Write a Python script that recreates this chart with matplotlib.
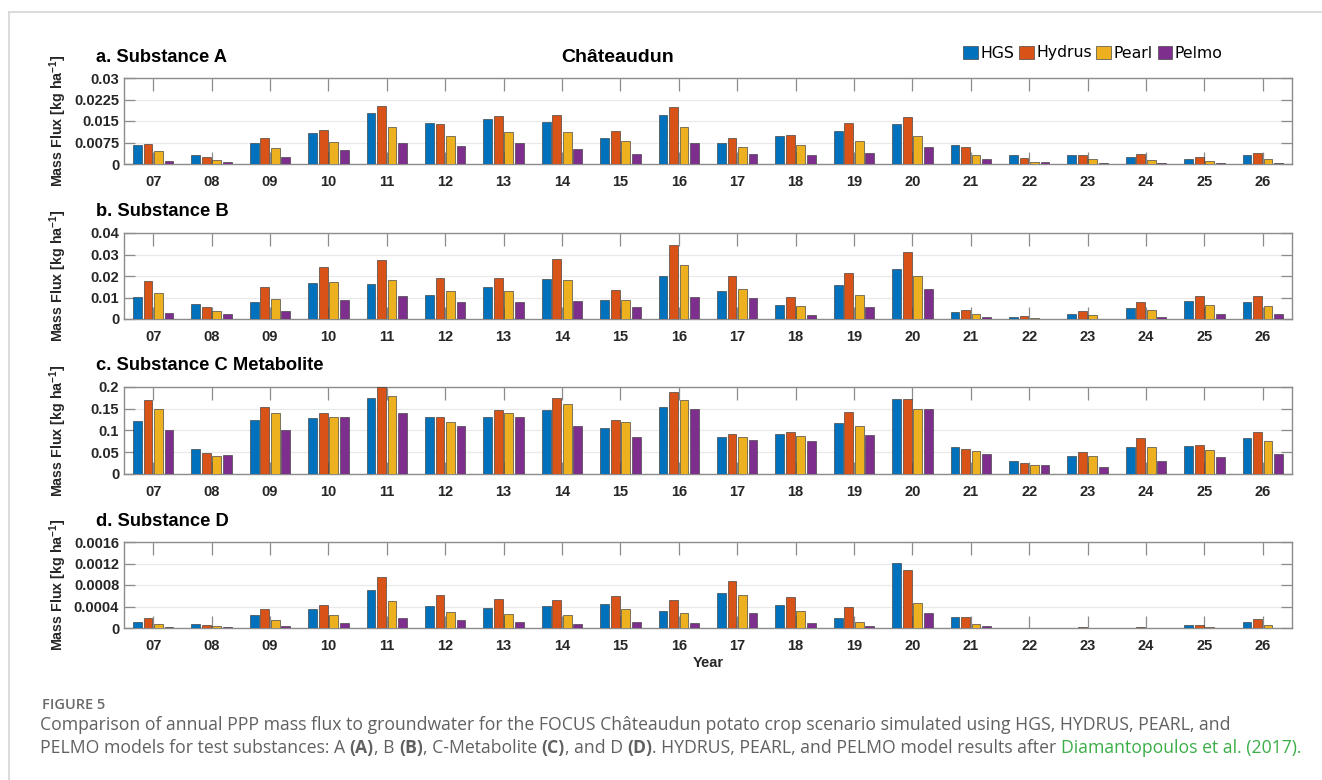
import matplotlib
matplotlib.use('Agg')
import matplotlib.pyplot as plt
from matplotlib.patches import Patch
from matplotlib.lines import Line2D
from matplotlib.font_manager import FontProperties
import numpy as np

# ---------------- data ----------------
years = ['07', '08', '09', '10', '11', '12', '13', '14', '15', '16',
         '17', '18', '19', '20', '21', '22', '23', '24', '25', '26']
models = ['HGS', 'Hydrus', 'Pearl', 'Pelmo']
colors = ['#0072BD', '#D95319', '#EDB120', '#7E2F8E']

# Substance A
a_hgs = [0.0065, 0.0032, 0.0074, 0.0109, 0.0179, 0.0142, 0.0157, 0.0147, 0.0092, 0.0170,
         0.0073, 0.0097, 0.0115, 0.0141, 0.0067, 0.0031, 0.0031, 0.0023, 0.0018, 0.0031]
a_hydrus = [0.0070, 0.0025, 0.0091, 0.0119, 0.0202, 0.0138, 0.0166, 0.0171, 0.0115, 0.0198,
            0.0090, 0.0102, 0.0142, 0.0163, 0.0058, 0.0020, 0.0032, 0.0035, 0.0023, 0.0037]
a_pearl = [0.0046, 0.0015, 0.0055, 0.0078, 0.0129, 0.0098, 0.0110, 0.0110, 0.0080, 0.0129,
           0.0059, 0.0067, 0.0080, 0.0096, 0.0033, 0.0008, 0.0016, 0.0014, 0.0010, 0.0016]
a_pelmo = [0.0012, 0.0007, 0.0023, 0.0048, 0.0075, 0.0063, 0.0075, 0.0051, 0.0035, 0.0073,
           0.0036, 0.0033, 0.0039, 0.0059, 0.0018, 0.0007, 0.0005, 0.0005, 0.0002, 0.0003]

# Substance B
b_hgs = [0.0101, 0.0070, 0.0078, 0.0169, 0.0161, 0.0113, 0.0150, 0.0185, 0.0089, 0.0202,
         0.0130, 0.0067, 0.0159, 0.0234, 0.0034, 0.0009, 0.0025, 0.0052, 0.0084, 0.0077]
b_hydrus = [0.0178, 0.0057, 0.0149, 0.0244, 0.0274, 0.0190, 0.0190, 0.0277, 0.0133, 0.0342,
            0.0198, 0.0101, 0.0216, 0.0311, 0.0043, 0.0014, 0.0035, 0.0081, 0.0109, 0.0107]
b_pearl = [0.0120, 0.0038, 0.0092, 0.0170, 0.0181, 0.0130, 0.0130, 0.0181, 0.0089, 0.0250,
           0.0141, 0.0061, 0.0110, 0.0201, 0.0021, 0.0006, 0.0018, 0.0041, 0.0064, 0.0061]
b_pelmo = [0.0029, 0.0025, 0.0037, 0.0089, 0.0109, 0.0081, 0.0080, 0.0083, 0.0055, 0.0101,
           0.0097, 0.0018, 0.0057, 0.0141, 0.0011, 0.0002, 0.0001, 0.0008, 0.0021, 0.0023]

# Substance C Metabolite
c_hgs = [0.122, 0.058, 0.124, 0.129, 0.175, 0.130, 0.130, 0.146, 0.105, 0.155,
         0.084, 0.091, 0.118, 0.172, 0.061, 0.031, 0.042, 0.062, 0.065, 0.083]
c_hydrus = [0.170, 0.048, 0.153, 0.140, 0.199, 0.131, 0.147, 0.174, 0.123, 0.188,
            0.091, 0.096, 0.143, 0.172, 0.058, 0.026, 0.051, 0.082, 0.067, 0.096]
c_pearl = [0.150, 0.042, 0.140, 0.130, 0.180, 0.120, 0.140, 0.160, 0.120, 0.170,
           0.085, 0.087, 0.110, 0.150, 0.053, 0.020, 0.041, 0.061, 0.055, 0.076]
c_pelmo = [0.100, 0.044, 0.100, 0.130, 0.140, 0.110, 0.130, 0.110, 0.084, 0.150,
           0.078, 0.076, 0.089, 0.150, 0.047, 0.021, 0.017, 0.031, 0.038, 0.047]

# Substance D
d_hgs = [0.000104, 0.000074, 0.000233, 0.000350, 0.000705, 0.000410, 0.000380, 0.000405, 0.000440, 0.000313,
         0.000656, 0.000423, 0.000190, 0.001210, 0.000200, 0.000003, 0.000004, 0.000004, 0.000050, 0.000116]
d_hydrus = [0.000184, 0.000055, 0.000350, 0.000435, 0.000956, 0.000607, 0.000540, 0.000515, 0.000600, 0.000520,
            0.000883, 0.000570, 0.000386, 0.001070, 0.000210, 0.000004, 0.000020, 0.000020, 0.000055, 0.000166]
d_pearl = [0.000070, 0.000043, 0.000153, 0.000245, 0.000500, 0.000300, 0.000264, 0.000245, 0.000356, 0.000270,
           0.000620, 0.000313, 0.000116, 0.000466, 0.000080, 0.000002, 0.000004, 0.000004, 0.000020, 0.000055]
d_pelmo = [0.000020, 0.000010, 0.000043, 0.000092, 0.000184, 0.000141, 0.000110, 0.000067, 0.000110, 0.000092,
           0.000288, 0.000086, 0.000030, 0.000288, 0.000030, 0.000001, 0.000002, 0.000002, 0.000003, 0.000006]

panel_titles = ['a. Substance A', 'b. Substance B', 'c. Substance C Metabolite', 'd. Substance D']
yticks_a = [0, 0.0075, 0.015, 0.0225, 0.03]
ylabels_a = ['0', '0.0075', '0.015', '0.0225', '0.03']
yticks_b = [0, 0.01, 0.02, 0.03, 0.04]
ylabels_b = ['0', '0.01', '0.02', '0.03', '0.04']
yticks_c = [0, 0.05, 0.1, 0.15, 0.2]
ylabels_c = ['0', '0.05', '0.1', '0.15', '0.2']
yticks_d = [0, 0.0004, 0.0008, 0.0012, 0.0016]
ylabels_d = ['0', '0.0004', '0.0008', '0.0012', '0.0016']

panels = [
    ([a_hgs, a_hydrus, a_pearl, a_pelmo], yticks_a, ylabels_a),
    ([b_hgs, b_hydrus, b_pearl, b_pelmo], yticks_b, ylabels_b),
    ([c_hgs, c_hydrus, c_pearl, c_pelmo], yticks_c, ylabels_c),
    ([d_hgs, d_hydrus, d_pearl, d_pelmo], yticks_d, ylabels_d),
]

# ---------------- layout ----------------
W, H = 1322, 780
plt.rcParams['font.family'] = ['Liberation Sans', 'DejaVu Sans']
plt.rcParams['mathtext.fontset'] = 'custom'
plt.rcParams['mathtext.rm'] = 'Liberation Sans'
plt.rcParams['mathtext.bf'] = 'Liberation Sans:bold'

fig = plt.figure(figsize=(W / 100, H / 100), dpi=100)
fig.patch.set_facecolor('white')


def fx(x):
    return x / W


def fy(y):
    return 1 - y / H


ax_left, ax_right = 124, 1292
panel_tb = [(78, 164), (233, 319), (387, 474), (542, 628)]
title_y = [57, 212, 366, 521]

axis_gray = '#8c8c8c'
tick_text = '#262626'
x = np.arange(1, len(years) + 1)
offsets = [-0.27, -0.09, 0.09, 0.27]
bw = 0.15

for i, ((series, yt, yl), (top, bot)) in enumerate(zip(panels, panel_tb)):
    ax = fig.add_axes([fx(ax_left), fy(bot), (ax_right - ax_left) / W, (bot - top) / H])
    ax.set_axisbelow(True)
    for s, vals in enumerate(series):
        ax.bar(x + offsets[s], vals, width=bw, color=colors[s],
               edgecolor='#3a3a3a', linewidth=0.45, zorder=3)
    ax.set_xlim(0.5, len(years) + 0.5)
    ax.set_ylim(yt[0], yt[-1])
    ax.set_xticks(x)
    ax.set_xticklabels(years)
    ax.set_yticks(yt)
    ax.set_yticklabels(yl)
    ax.grid(axis='y', color='#e9e9e9', linewidth=0.9, zorder=0)
    for sp in ax.spines.values():
        sp.set_color(axis_gray)
        sp.set_linewidth(1.0)
    ax.tick_params(axis='x', direction='in', top=True, bottom=True, length=9,
                   width=0.9, color=axis_gray, pad=8, labelsize=10.5, labelcolor=tick_text)
    ax.tick_params(axis='y', direction='in', left=True, right=True, length=8,
                   width=0.9, color=axis_gray, pad=3.5, labelsize=10.5, labelcolor=tick_text)
    for lbl in ax.get_xticklabels() + ax.get_yticklabels():
        lbl.set_fontweight('bold')
    fig.text(fx(96), fy(title_y[i]), panel_titles[i], fontsize=13.2, fontweight='bold',
             ha='left', va='center', color='black')
    fig.text(fx(58), fy((top + bot) / 2), r'Mass Flux [kg ha$^{\mathbf{-1}}$]',
             rotation=90, ha='center', va='center', fontsize=10.3, fontweight='bold',
             color=tick_text)

fig.text(fx(708), fy(663), 'Year', ha='center', va='center', fontsize=10.5,
         fontweight='bold', color=tick_text)
fig.text(fx(618), fy(57), 'Châteaudun', ha='center', va='center', fontsize=14,
         fontweight='bold', color='black')

handles = [Patch(facecolor=c, edgecolor='#3a3a3a', linewidth=0.45) for c in colors]
fig.legend(handles, models, loc='center left', bbox_to_anchor=(fx(963), fy(53)),
           ncol=4, frameon=False, prop={'family': 'DejaVu Sans', 'size': 11.3},
           handlelength=0.95, handleheight=0.9, handletextpad=0.15,
           columnspacing=0.3, borderpad=0, borderaxespad=0)

# figure frame (top and left light rules)
fig.add_artist(Line2D([fx(9), 1], [fy(12), fy(12)], color='#d4d4d4', linewidth=1.2))
fig.add_artist(Line2D([fx(9), fx(9)], [fy(12), 0], color='#d4d4d4', linewidth=1.2))

# ---------------- caption ----------------
renderer = fig.canvas.get_renderer()
cap_gray = '#616161'
green = '#3cae48'
cap_family = 'Open Sans'


def text_width(s, size, weight):
    prop = FontProperties(family=cap_family, size=size, weight=weight)
    w1, _, _ = renderer.get_text_width_height_descent(s + '|', prop, ismath=False)
    w2, _, _ = renderer.get_text_width_height_descent('|', prop, ismath=False)
    return w1 - w2


line1 = ('Comparison of annual PPP mass flux to groundwater for the FOCUS Châteaudun '
         'potato crop scenario simulated using HGS, HYDRUS, PEARL, and')
line2 = [
    ('PELMO models for test substances: A ', 'normal', cap_gray),
    ('(A)', 'bold', cap_gray),
    (', B ', 'normal', cap_gray),
    ('(B)', 'bold', cap_gray),
    (', C-Metabolite ', 'normal', cap_gray),
    ('(C)', 'bold', cap_gray),
    (', and D ', 'normal', cap_gray),
    ('(D)', 'bold', cap_gray),
    ('. HYDRUS, PEARL, and PELMO model results after ', 'normal', cap_gray),
    ('Diamantopoulos et al. (2017).', 'normal', green),
]

base = 12.0
size1 = base * 1198 / text_width(line1, base, 'normal')
w2 = sum(text_width(t, base, wt) for t, wt, _ in line2)
size2 = min(size1, base * 1258 / w2)
cap_size = size2

fig.text(fx(42), fy(709), 'FIGURE 5', family=cap_family, fontsize=10.5,
         fontweight='semibold', color='#6a6a6a', ha='left', va='baseline')
fig.text(fx(40), fy(730), line1, family=cap_family, fontsize=cap_size,
         color=cap_gray, ha='left', va='baseline')
xpos = 40
for txt, wt, col in line2:
    fig.text(fx(xpos), fy(753), txt, family=cap_family, fontsize=cap_size,
             fontweight=wt, color=col, ha='left', va='baseline')
    xpos += text_width(txt, cap_size, wt)

fig.savefig('out.png', dpi=100, facecolor='white')
